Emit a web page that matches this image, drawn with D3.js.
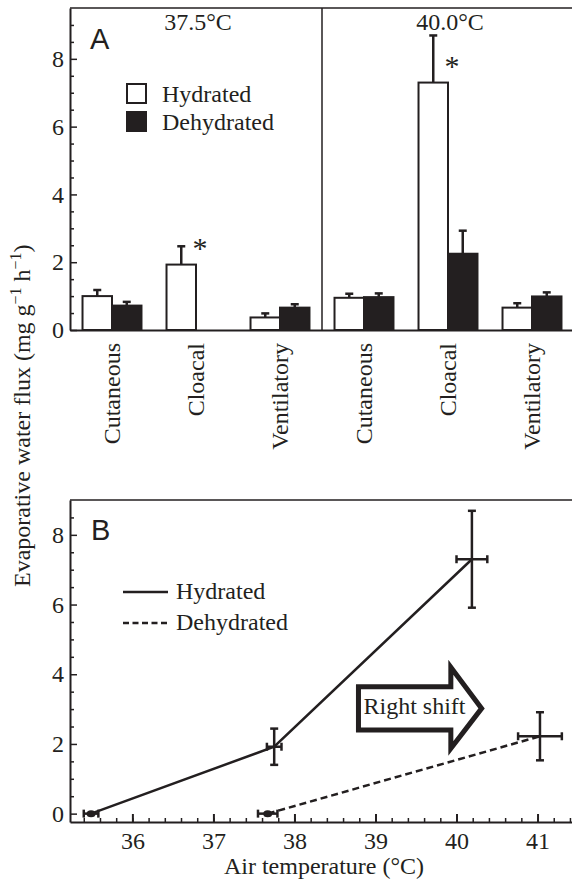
<!DOCTYPE html>
<html lang="en">
<head>
<meta charset="UTF-8">
<title>Evaporative water flux</title>
<script src="https://cdn.jsdelivr.net/npm/d3@7"></script>
<style>
  body { margin: 0; background: #fff; }
  svg { display: block; }
</style>
</head>
<body>
<svg id="chart" width="572" height="881"></svg>
<script>
// ---- Panel A: routes of water loss at two air temperatures ----
const temps = ["37.5°C", "40.0°C"];
const routes = ["Cutaneous", "Cloacal", "Ventilatory"];
const hydMean = [1.0, 1.93, 0.37, 0.95, 7.3, 0.66];
const hydErr = [0.18, 0.54, 0.12, 0.12, 1.39, 0.13];
const dehMean = [0.72, 0, 0.66, 0.97, 2.25, 0.99];
const dehErr = [0.11, 0, 0.10, 0.11, 0.68, 0.12];
const starred = [false, true, false, false, true, false];
const yTicksMajor = [0, 2, 4, 6, 8];
const yTicksMinorA = [0.5, 1, 1.5, 2.5, 3, 3.5, 4.5, 5, 5.5, 6.5, 7, 7.5, 8.5, 9];

// ---- Panel B: cloacal flux vs air temperature ----
const hydTemp = [35.49, 37.75, 40.19];
const hydTempErr = [0.09, 0.09, 0.19];
const hydFlux = [0, 1.92, 7.3];
const hydFluxErr = [0, 0.52, 1.39];
const dehTemp = [37.67, 41.03];
const dehTempErr = [0.12, 0.27];
const dehFlux = [0, 2.22];
const dehFluxErr = [0, 0.69];
const yTicksMinorB = [0.5, 1, 1.5, 2.5, 3, 3.5, 4.5, 5, 5.5, 6.5, 7, 7.5, 8.5];
const xTicksMajor = [36, 37, 38, 39, 40, 41];

const ink = "#231f20";
const serif = "'Liberation Serif', 'Times New Roman', serif";
const fs = 24;
const svg = d3.select("#chart");
const left = 70, right = 574;

// small helper so every label gets the same serif font
function label(sel, x, y, txt) {
    return sel.append("text")
        .attr("x", x).attr("y", y)
        .attr("font-family", serif).attr("font-size", fs).attr("fill", ink)
        .text(txt);
}
function styleAxis(g) {
    g.attr("font-family", serif).attr("font-size", fs);
    g.selectAll("text").attr("fill", ink);
    g.selectAll("line, path").attr("stroke", ink);
}

// ================= Panel A =================
const aTop = 8, aBottom = 330;
const groups = temps.flatMap(t => routes.map(r => t + "|" + r));

const xA = d3.scaleBand()
    .domain(groups)
    .range([left, right])
    .paddingInner(0.298)
    .paddingOuter(0.149);
const xSub = d3.scaleBand()
    .domain(["Hydrated", "Dehydrated"])
    .range([0, xA.bandwidth()]);
const yA = d3.scaleLinear().domain([0, 9.5]).range([aBottom, aTop]);

const gA = svg.append("g");

// frame: top line and divider between temperatures
gA.append("line")
    .attr("x1", left).attr("x2", right).attr("y1", aTop).attr("y2", aTop)
    .attr("stroke", ink).attr("stroke-width", 1.5);
const divX = (xA(groups[2]) + xA.bandwidth() + xA(groups[3])) / 2;
gA.append("line")
    .attr("x1", divX).attr("x2", divX).attr("y1", aTop).attr("y2", aBottom)
    .attr("stroke", ink).attr("stroke-width", 1.5);

// y axis (ticks point inward)
gA.append("g")
    .attr("transform", `translate(${left},0)`)
    .call(d3.axisLeft(yA).tickValues(yTicksMinorA).tickSize(-4).tickFormat(""))
    .call(g => g.select(".domain").remove())
    .call(styleAxis)
    .selectAll("line").attr("stroke-width", 1.5);
gA.append("g")
    .attr("transform", `translate(${left},0)`)
    .call(d3.axisLeft(yA).tickValues(yTicksMajor).tickFormat(d3.format("d"))
        .tickSize(-7).tickSizeOuter(0).tickPadding(6))
    .call(styleAxis)
    .call(g => g.select(".domain").attr("stroke-width", 2))
    .call(g => g.selectAll("line").attr("stroke-width", 1.5));

// x axis with rotated category names
gA.append("g")
    .attr("transform", `translate(0,${aBottom})`)
    .call(d3.axisBottom(xA).tickSize(0).tickSizeOuter(0).tickFormat(d => d.split("|")[1]))
    .call(styleAxis)
    .call(g => g.select(".domain").attr("stroke-width", 2))
    .selectAll("text")
    .attr("transform", "rotate(-90)")
    .attr("x", -13).attr("y", 0).attr("dy", "0.33em")
    .attr("text-anchor", "end");

// bars
const bars = groups.map((g, i) => [
    { key: g, s: "Hydrated", v: hydMean[i], e: hydErr[i] },
    { key: g, s: "Dehydrated", v: dehMean[i], e: dehErr[i] }
]).flat().filter(d => d.v > 0);

gA.selectAll("g.err").data(bars).join("g").attr("class", "err").each(function (d) {
    const cx = xA(d.key) + xSub(d.s) + xSub.bandwidth() / 2;
    const g = d3.select(this);
    g.append("line")
        .attr("x1", cx).attr("x2", cx)
        .attr("y1", yA(d.v)).attr("y2", yA(d.v + d.e))
        .attr("stroke", ink).attr("stroke-width", 2.5);
    g.append("line")
        .attr("x1", cx - 4).attr("x2", cx + 4)
        .attr("y1", yA(d.v + d.e)).attr("y2", yA(d.v + d.e))
        .attr("stroke", ink).attr("stroke-width", 2.5);
});

gA.selectAll("rect.bar").data(bars).join("rect")
    .attr("class", "bar")
    .attr("x", d => xA(d.key) + xSub(d.s))
    .attr("width", xSub.bandwidth())
    .attr("y", d => yA(d.v))
    .attr("height", d => yA(0) - yA(d.v))
    .attr("fill", d => d.s === "Hydrated" ? "#fff" : ink)
    .attr("stroke", ink).attr("stroke-width", 2);

// significance marks
gA.selectAll("text.star").data(groups.filter((g, i) => starred[i])).join("text")
    .attr("class", "star")
    .attr("x", d => xA(d) + xSub.bandwidth() + 4)
    .attr("y", d => yA(hydMean[groups.indexOf(d)]) - 7)
    .attr("text-anchor", "middle")
    .attr("font-family", serif).attr("font-size", 30).attr("fill", ink)
    .text("*");

// temperature headers
temps.forEach(t => {
    label(gA, xA(t + "|Cloacal") + xA.bandwidth() / 2 + 2, 30, t)
        .attr("text-anchor", "middle");
});

// panel letter and legend
gA.append("text").attr("x", 90).attr("y", 49)
    .attr("font-family", "'Liberation Sans', Arial, sans-serif")
    .attr("font-size", 29).attr("fill", ink).text("A");

const legA = gA.append("g").attr("transform", "translate(126,83)");
[["Hydrated", "#fff"], ["Dehydrated", ink]].forEach(([name, fill], i) => {
    legA.append("rect").attr("x", 1).attr("y", i * 28 + 1).attr("width", 19).attr("height", 19)
        .attr("fill", fill).attr("stroke", ink).attr("stroke-width", 2);
    label(legA, 36, i * 28 + 19, name);
});

// ================= Panel B =================
const bTop = 500, bBottom = 822;
const xB = d3.scaleLinear().domain([35.23, 41.45]).range([left, right]);
const yB = d3.scaleLinear().domain([-0.24, 9]).range([bBottom, bTop]);
const gB = svg.append("g");

gB.append("line")
    .attr("x1", left).attr("x2", right).attr("y1", bTop).attr("y2", bTop)
    .attr("stroke", ink).attr("stroke-width", 1.5);

gB.append("g")
    .attr("transform", `translate(${left},0)`)
    .call(d3.axisLeft(yB).tickValues(yTicksMinorB).tickSize(-4).tickFormat(""))
    .call(g => g.select(".domain").remove())
    .call(styleAxis)
    .selectAll("line").attr("stroke-width", 1.5);
gB.append("g")
    .attr("transform", `translate(${left},0)`)
    .call(d3.axisLeft(yB).tickValues(yTicksMajor).tickFormat(d3.format("d"))
        .tickSize(-7).tickSizeOuter(0).tickPadding(6))
    .call(styleAxis)
    .call(g => g.select(".domain").attr("stroke-width", 2))
    .call(g => g.selectAll("line").attr("stroke-width", 1.5));

gB.append("g")
    .attr("transform", `translate(0,${bBottom})`)
    .call(d3.axisBottom(xB).tickValues(d3.range(35.4, 41.45, 0.2)).tickSize(-4).tickFormat(""))
    .call(g => g.select(".domain").remove())
    .call(styleAxis)
    .selectAll("line").attr("stroke-width", 1.5);
gB.append("g")
    .attr("transform", `translate(0,${bBottom})`)
    .call(d3.axisBottom(xB).tickValues(xTicksMajor).tickFormat(d3.format("d"))
        .tickSize(-8).tickSizeOuter(0).tickPadding(10))
    .call(styleAxis)
    .call(g => g.select(".domain").attr("stroke-width", 2))
    .call(g => g.selectAll("line").attr("stroke-width", 2));

// lines
const line = d3.line().x(d => xB(d[0])).y(d => yB(d[1]));
gB.append("path")
    .attr("d", line(hydTemp.map((t, i) => [t, hydFlux[i]])))
    .attr("fill", "none").attr("stroke", ink).attr("stroke-width", 2.5);
gB.append("path")
    .attr("d", line(dehTemp.map((t, i) => [t, dehFlux[i]])))
    .attr("fill", "none").attr("stroke", ink).attr("stroke-width", 2.5)
    .attr("stroke-dasharray", "7,4");

// error crosses
function crosses(tv, te, fv, fe) {
    tv.forEach((t, i) => {
        const cx = xB(t), cy = yB(fv[i]);
        const g = gB.append("g").attr("stroke", ink).attr("stroke-width", 2.5);
        g.append("line").attr("x1", xB(t - te[i])).attr("x2", xB(t + te[i])).attr("y1", cy).attr("y2", cy);
        g.append("line").attr("x1", xB(t - te[i])).attr("x2", xB(t - te[i])).attr("y1", cy - 4).attr("y2", cy + 4);
        g.append("line").attr("x1", xB(t + te[i])).attr("x2", xB(t + te[i])).attr("y1", cy - 4).attr("y2", cy + 4);
        if (fe[i] > 0) {
            const y1 = yB(fv[i] - fe[i]), y2 = yB(fv[i] + fe[i]);
            g.append("line").attr("x1", cx).attr("x2", cx).attr("y1", y1).attr("y2", y2);
            g.append("line").attr("x1", cx - 4).attr("x2", cx + 4).attr("y1", y1).attr("y2", y1);
            g.append("line").attr("x1", cx - 4).attr("x2", cx + 4).attr("y1", y2).attr("y2", y2);
        } else {
            gB.append("ellipse").attr("cx", cx).attr("cy", cy).attr("rx", 4.5).attr("ry", 3.5).attr("fill", ink);
        }
    });
}
crosses(hydTemp, hydTempErr, hydFlux, hydFluxErr);
crosses(dehTemp, dehTempErr, dehFlux, dehFluxErr);

// "Right shift" arrow (placed in data units)
const tail = 38.79, neck = 39.93, tip = 40.31;
const arrow = d3.path();
arrow.moveTo(xB(tail), yB(3.64));
arrow.lineTo(xB(neck), yB(3.64));
arrow.lineTo(xB(neck), yB(4.2));
arrow.lineTo(xB(tip), yB(3.02));
arrow.lineTo(xB(neck), yB(1.87));
arrow.lineTo(xB(neck), yB(2.4));
arrow.lineTo(xB(tail), yB(2.4));
arrow.closePath();
gB.append("path").attr("d", arrow.toString())
    .attr("fill", "#fff").attr("stroke", ink).attr("stroke-width", 5)
    .attr("stroke-linejoin", "miter");
label(gB, xB(tail) + 5, 714, "Right shift");

// panel letter and legend
gB.append("text").attr("x", 91).attr("y", 540)
    .attr("font-family", "'Liberation Sans', Arial, sans-serif")
    .attr("font-size", 29).attr("fill", ink).text("B");

[["Hydrated", null, 592], ["Dehydrated", "6,3.5", 623]].forEach(([name, dash, y]) => {
    gB.append("line").attr("x1", 123).attr("x2", 168).attr("y1", y).attr("y2", y)
        .attr("stroke", ink).attr("stroke-width", 2.5).attr("stroke-dasharray", dash);
    label(gB, 176, y + 7, name);
});

// axis titles
label(gB, 324, 874, "Air temperature (°C)").attr("text-anchor", "middle");

const yTitle = label(svg, 0, 0, null)
    .attr("x", null).attr("y", null)
    .attr("transform", "translate(30,587) rotate(-90)");
yTitle.append("tspan").text("Evaporative water flux (mg g");
yTitle.append("tspan").attr("font-size", 16).attr("dy", -9).text("−1");
yTitle.append("tspan").attr("dy", 9).text(" h");
yTitle.append("tspan").attr("font-size", 16).attr("dy", -9).text("−1");
yTitle.append("tspan").attr("dy", 9).text(")");
</script>
</body>
</html>
